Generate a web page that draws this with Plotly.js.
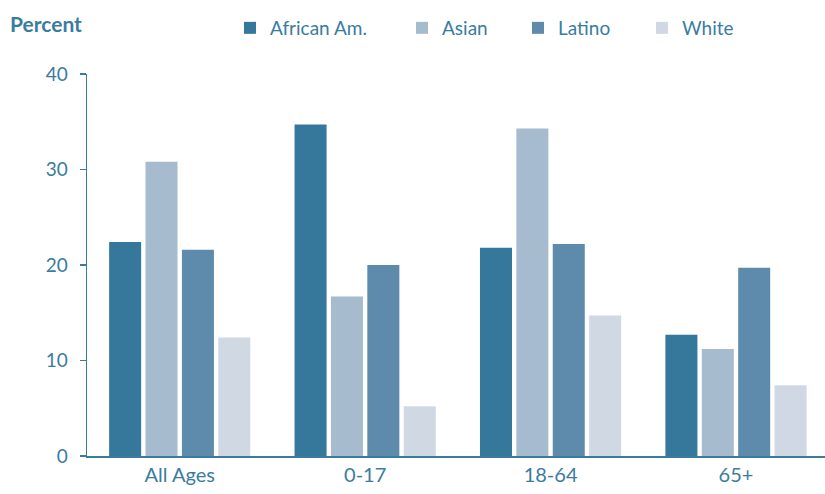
<!DOCTYPE html>
<html>
<head>
<meta charset="utf-8">
<script src="https://cdn.plot.ly/plotly-3.0.1.min.js"></script>
<style>html,body{margin:0;padding:0;background:#fff;}#chart{width:825px;height:494px;}</style>
</head>
<body>
<div id="chart"></div>
<script>
const categories = ["All Ages", "0-17", "18-64", "65+"];
const seriesNames = ["African Am.", "Asian", "Latino", "White"];
const africanAm = [22.4, 34.7, 21.8, 12.7];
const asian = [30.8, 16.7, 34.3, 11.2];
const latino = [21.6, 20.0, 22.2, 19.7];
const white = [12.4, 5.2, 14.7, 7.4];
const yTicks = [0, 10, 20, 30, 40];

const colors = ["#35789c", "#a7bbcf", "#5e8bab", "#d0d8e3"];
const textColor = "#3a7ca0";
const values = [africanAm, asian, latino, white];
const legendNames = ["legend", "legend2", "legend3", "legend4"];
const legendX = [230, 402, 518, 642];

const traces = values.map((v, i) => ({
  type: "bar",
  name: seriesNames[i],
  x: categories,
  y: v,
  marker: {color: colors[i]},
  legend: legendNames[i],
  hoverinfo: "x+y+name"
}));

const layout = {
  width: 825,
  height: 494,
  margin: {l: 87, r: 0, t: 74, b: 38},
  paper_bgcolor: "#ffffff",
  plot_bgcolor: "#ffffff",
  font: {family: "Lato, 'Open Sans', sans-serif", color: textColor, size: 18},
  barmode: "group",
  bargap: 0.215,
  bargroupgap: 0.12,
  xaxis: {
    type: "category",
    range: [-0.5, 3.48],
    showline: true,
    linecolor: textColor,
    linewidth: 1.5,
    ticks: "",
    showgrid: false,
    zeroline: false,
    tickfont: {size: 20, color: textColor}
  },
  yaxis: {
    range: [0, 40],
    tickvals: yTicks,
    ticktext: yTicks.map(String),
    showline: true,
    linecolor: textColor,
    linewidth: 1.5,
    ticks: "outside",
    ticklen: 6,
    tickcolor: textColor,
    tickwidth: 1.5,
    ticklabelstandoff: 8,
    showgrid: false,
    zeroline: false,
    tickfont: {size: 19, color: textColor}
  },
  annotations: [{
    text: "<b>Percent</b>",
    xref: "paper", yref: "paper",
    x: (8 - 87) / 738,
    y: 1 + (74 - 24) / 382,
    xanchor: "left", yanchor: "middle",
    showarrow: false,
    font: {size: 21, color: textColor}
  }],
  showlegend: true
};

legendNames.forEach((ln, i) => {
  layout[ln] = {
    xref: "container", yref: "container",
    x: legendX[i] / 825,
    y: 1 - 28 / 494,
    xanchor: "left", yanchor: "middle",
    orientation: "h",
    bgcolor: "rgba(0,0,0,0)",
    borderwidth: 0,
    font: {size: 19, color: textColor}
  };
});

Plotly.newPlot("chart", traces, layout, {displayModeBar: false, staticPlot: true});
</script>
</body>
</html>
